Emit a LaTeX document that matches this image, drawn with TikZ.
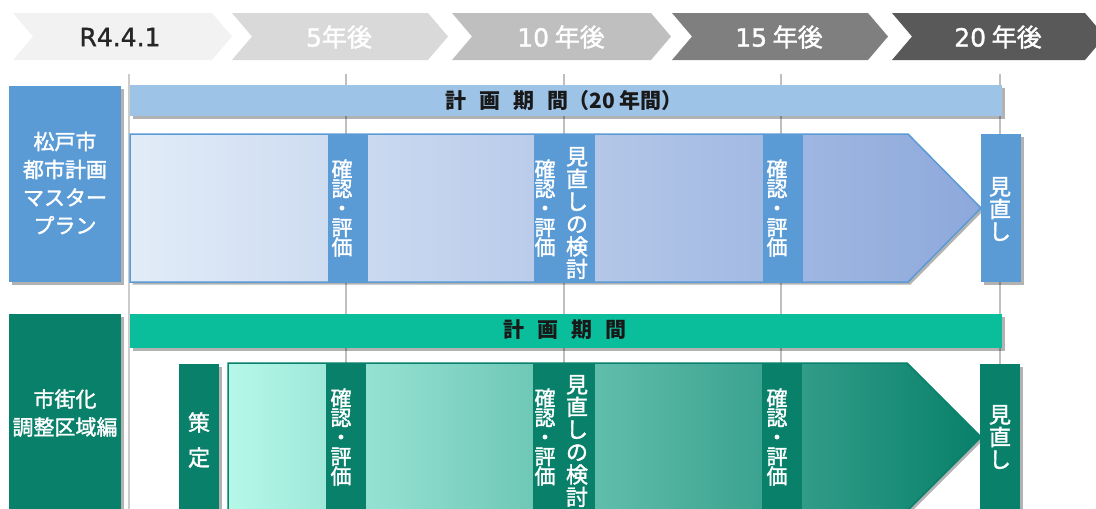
\documentclass[tikz,border=0pt]{standalone}
\usepackage{fontspec}
\setmainfont{Noto Sans CJK JP}
\newfontfamily\cjkmed{Noto Sans CJK JP}[BoldFont={Noto Sans CJK JP},BoldFeatures={FakeBold=1.6}]
\newfontfamily\latmed{DejaVu Sans}[BoldFont={DejaVu Sans},BoldFeatures={FakeBold=1.3}]
\newcommand{\md}{\cjkmed\bfseries}
\newcommand{\lt}[1]{{\latmed\bfseries #1}}
\usetikzlibrary{shadows}
\definecolor{mpblue}{HTML}{5B9BD5}
\definecolor{mpbar}{HTML}{9DC3E6}
\definecolor{mplight}{HTML}{E2ECF8}
\definecolor{mpdark}{HTML}{8DA8DB}
\definecolor{cgdark}{HTML}{08806A}
\definecolor{cgbar}{HTML}{0ABE9C}
\definecolor{cglight}{HTML}{B5F8EA}
\definecolor{gridgray}{HTML}{BFBFBF}
\definecolor{chA}{HTML}{F2F2F2}
\definecolor{chB}{HTML}{D9D9D9}
\definecolor{chC}{HTML}{BFBFBF}
\definecolor{chD}{HTML}{7F7F7F}
\definecolor{chE}{HTML}{595959}
\newcommand{\gap}{\hspace{13pt}}
\tikzset{
  shad/.style={drop shadow={shadow xshift=2.5pt,shadow yshift=-2.5pt,fill=black,opacity=0.3}},
  chevtext/.style={font=\md\fontsize{25}{27}\selectfont,text=white,inner sep=0pt},
  bartext/.style={font=\bfseries\fontsize{21}{23}\selectfont,text=black!90,inner sep=0pt},
  sidetext/.style={font=\md\fontsize{21}{28}\selectfont,text=white,align=center,inner sep=0pt},
  vtext/.style={font=\md\fontsize{21}{19.5}\selectfont,text=white,align=center,inner sep=0pt},
  vbig/.style={font=\md\fontsize{22}{22.5}\selectfont,text=white,align=center,inner sep=0pt},
  gridline/.style={draw=gridgray,line width=1.2pt},
}
\begin{document}
\begin{tikzpicture}[x=1pt,y=-1pt]
\useasboundingbox (0,0) rectangle (1096,509);
% chevrons
\fill[chA] (13,13) -- (212,13) -- (232,36.5) -- (212,60) -- (13,60) -- (33,36.5) -- cycle;
\fill[chB] (232,13) -- (428,13) -- (448,36.5) -- (428,60) -- (232,60) -- (252,36.5) -- cycle;
\fill[chC] (452,13) -- (651,13) -- (671,36.5) -- (651,60) -- (452,60) -- (472,36.5) -- cycle;
\fill[chD] (672,13) -- (868,13) -- (888,36.5) -- (868,60) -- (672,60) -- (692,36.5) -- cycle;
\fill[chE] (892,13) -- (1085,13) -- (1105,36.5) -- (1085,60) -- (892,60) -- (912,36.5) -- cycle;
\node[chevtext,text=black!85] (t0) at (120,37) {\lt{R4.4.1}};
\node[chevtext] (t5) at (339,37) {\lt{5}年後};
\node[chevtext] (t10) at (561,37) {\lt{10} 年後};
\node[chevtext] (t15) at (779,37) {\lt{15} 年後};
\node[chevtext] (t20) at (998,37) {\lt{20} 年後};
% grid lines
\coordinate (g0a) at (129,74); \coordinate (g0b) at (129,509);
\coordinate (g1a) at (346,74); \coordinate (g1b) at (346,509);
\coordinate (g2a) at (564,74); \coordinate (g2b) at (564,509);
\coordinate (g3a) at (781,74); \coordinate (g3b) at (781,509);
\coordinate (g4a) at (1000,74); \coordinate (g4b) at (1000,509);
\draw[gridline,line width=2pt,draw=gridgray!80] (g0a) -- (g0b);
\draw[gridline] (g1a) -- (g1b);
\draw[gridline] (g2a) -- (g2b);
\draw[gridline] (g3a) -- (g3b);
\draw[gridline] (g4a) -- (g4b);
% ===== master plan row
\fill[mpblue,shad] (9,86) rectangle (121,282);
\node[sidetext] (mpl) at (65,183) {松戸市\\都市計画\\マスター\\プラン};
\fill[mpbar,shad] (130,85) rectangle (1002,116);
\node[bartext] (mpbart) at (564,101) {計\gap 画\gap 期\gap 間（20\,年間）};
\path[left color=mplight,right color=mpdark,draw=mpblue,line width=1.5pt,shad]
  (130,134) -- (908,134) -- (981,208) -- (908,282) -- (130,282) -- cycle;
\fill[mpblue] (328,134) rectangle (368,282);
\fill[mpblue] (534,134) rectangle (595,282);
\fill[mpblue] (763,134) rectangle (803,282);
\fill[mpblue,shad] (981,134) rectangle (1021,282);
\node[vtext] (mpa) at (342,208) {確\\認\\・\\評\\価};
\node[vtext] (mpb) at (545,208) {確\\認\\・\\評\\価};
\node[vbig] (mpc) at (577,213) {見\\直\\し\\の\\検\\討};
\node[vtext] (mpd) at (777,208) {確\\認\\・\\評\\価};
\node[vbig] (mpe) at (1000,209) {見\\直\\し};
% ===== green row
\fill[cgdark,shad] (9,314) rectangle (121,520);
\node[sidetext] (cgl) at (65,413) {市街化\\調整区域編};
\fill[cgbar,shad] (130,314) rectangle (1002,348);
\node[bartext] (cgbart) at (565,330) {計\gap 画\gap 期\gap 間};
\fill[cgdark,shad] (179,364) rectangle (219,520);
\node[font=\md\fontsize{22}{35}\selectfont,text=white,align=center,inner sep=0pt] (cgs) at (199,440) {策\\定};
\path[left color=cglight,right color=cgdark,draw=cgdark,line width=1.5pt,shad]
  (228,363) -- (907,363) -- (981,437) -- (907,511) -- (228,511) -- cycle;
\fill[cgdark] (326,363) rectangle (366,520);
\fill[cgdark] (533,363) rectangle (595,520);
\fill[cgdark] (762,363) rectangle (802,520);
\fill[cgdark,shad] (980,364) rectangle (1020,520);
\node[vtext] (cga) at (341,437) {確\\認\\・\\評\\価};
\node[vtext] (cgb) at (545,437) {確\\認\\・\\評\\価};
\node[vbig] (cgc) at (577,441) {見\\直\\し\\の\\検\\討};
\node[vtext] (cgd) at (777,437) {確\\認\\・\\評\\価};
\node[vbig] (cge) at (1000,437) {見\\直\\し};
\end{tikzpicture}
\end{document}
